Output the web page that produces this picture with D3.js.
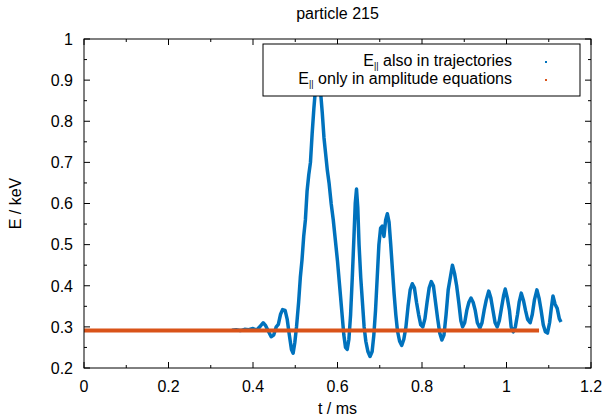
<!DOCTYPE html>
<html>
<head>
<meta charset="utf-8">
<script src="https://cdn.jsdelivr.net/npm/d3@7"></script>
<style>
  body { margin: 0; background: #fff; }
  text { font-family: "Liberation Sans", Arial, sans-serif; fill: #000; }
</style>
</head>
<body>
<div class="container"></div>
<script>
// E_|| also in trajectories (blue)
const blueT = [0.350,0.360,0.370,0.380,0.390,0.400,0.408,0.416,0.424,0.430,0.437,0.443,0.449,0.455,0.460,0.465,0.470,0.476,0.481,0.486,0.491,0.495,0.499,0.503,0.508,0.512,0.516,0.520,0.524,0.528,0.532,0.536,0.540,0.544,0.548,0.552,0.556,0.560,0.564,0.568,0.572,0.576,0.580,0.585,0.590,0.595,0.600,0.605,0.610,0.615,0.619,0.623,0.627,0.631,0.635,0.639,0.642,0.645,0.648,0.651,0.655,0.659,0.663,0.667,0.672,0.677,0.682,0.686,0.690,0.694,0.698,0.702,0.706,0.710,0.714,0.718,0.722,0.726,0.730,0.734,0.738,0.742,0.747,0.752,0.757,0.762,0.767,0.772,0.777,0.782,0.787,0.792,0.797,0.802,0.807,0.812,0.817,0.822,0.827,0.832,0.837,0.842,0.847,0.852,0.857,0.862,0.867,0.872,0.877,0.882,0.887,0.892,0.896,0.901,0.906,0.911,0.916,0.921,0.926,0.931,0.937,0.942,0.947,0.952,0.958,0.963,0.968,0.973,0.978,0.983,0.988,0.993,0.997,1.002,1.007,1.011,1.016,1.021,1.026,1.030,1.035,1.040,1.045,1.050,1.056,1.061,1.066,1.072,1.077,1.082,1.087,1.092,1.097,1.102,1.106,1.110,1.115,1.120,1.125,1.129];
const blueE = [0.292,0.293,0.291,0.294,0.293,0.296,0.292,0.300,0.310,0.303,0.288,0.276,0.280,0.300,0.306,0.330,0.342,0.340,0.318,0.280,0.245,0.236,0.262,0.300,0.360,0.420,0.463,0.520,0.560,0.630,0.670,0.700,0.770,0.830,0.880,0.910,0.900,0.870,0.820,0.760,0.720,0.680,0.650,0.600,0.560,0.510,0.460,0.400,0.340,0.280,0.250,0.245,0.270,0.330,0.420,0.520,0.600,0.635,0.590,0.500,0.420,0.360,0.300,0.265,0.240,0.228,0.240,0.280,0.340,0.420,0.500,0.540,0.545,0.520,0.560,0.575,0.555,0.500,0.440,0.380,0.330,0.290,0.265,0.255,0.270,0.300,0.350,0.390,0.405,0.395,0.360,0.330,0.305,0.300,0.320,0.360,0.395,0.410,0.400,0.360,0.320,0.285,0.268,0.280,0.330,0.390,0.420,0.450,0.430,0.400,0.360,0.315,0.300,0.310,0.340,0.360,0.370,0.360,0.340,0.310,0.297,0.310,0.340,0.365,0.387,0.370,0.340,0.310,0.300,0.315,0.345,0.375,0.392,0.370,0.340,0.300,0.288,0.300,0.330,0.360,0.382,0.365,0.340,0.318,0.310,0.330,0.365,0.390,0.370,0.340,0.305,0.288,0.285,0.310,0.345,0.375,0.355,0.345,0.320,0.312];

// E_|| only in amplitude equations (orange)
const orangeT = [0, 1.077];
const orangeE = [0.291, 0.291];

const xTicks = [0, 0.2, 0.4, 0.6, 0.8, 1, 1.2];
const yTicks = [0.2, 0.3, 0.4, 0.5, 0.6, 0.7, 0.8, 0.9, 1];

const width = 606, height = 418;
const plotLeft = 84, plotRight = 591, plotTop = 39, plotBottom = 368;

const svg = d3.select('.container').append('svg').attr('width', width).attr('height', height);

const x = d3.scaleLinear().domain([0, 1.2]).range([plotLeft, plotRight]);
const y = d3.scaleLinear().domain([0.2, 1]).range([plotBottom, plotTop]);

const line = d3.line().x(d => x(d[0])).y(d => y(d[1]));

svg.append('path')
    .datum(d3.zip(blueT, blueE))
    .attr('d', line).attr('fill', 'none').attr('stroke', '#0072bd')
    .attr('stroke-width', 3.5).attr('stroke-linejoin', 'round');

svg.append('path')
    .datum(d3.zip(orangeT, orangeE))
    .attr('d', line).attr('fill', 'none').attr('stroke', '#d95319')
    .attr('stroke-width', 4);

// ticks on all four sides, pointing inward
const tickG = svg.append('g').attr('stroke', '#000').attr('stroke-width', 1);
const xMinor = d3.range(0, 13).map(i => i / 10);
const yMinor = d3.range(0, 17).map(i => 0.2 + i * 0.05);
xMinor.forEach((v, i) => {
    const len = i % 2 === 0 ? 6 : 3;
    tickG.append('line').attr('x1', x(v)).attr('x2', x(v)).attr('y1', plotBottom).attr('y2', plotBottom - len);
    tickG.append('line').attr('x1', x(v)).attr('x2', x(v)).attr('y1', plotTop).attr('y2', plotTop + len);
});
yMinor.forEach((v, i) => {
    const len = i % 2 === 0 ? 6 : 3;
    tickG.append('line').attr('y1', y(v)).attr('y2', y(v)).attr('x1', plotLeft).attr('x2', plotLeft + len);
    tickG.append('line').attr('y1', y(v)).attr('y2', y(v)).attr('x1', plotRight).attr('x2', plotRight - len);
});

svg.append('rect')
    .attr('x', plotLeft).attr('y', plotTop).attr('width', plotRight - plotLeft).attr('height', plotBottom - plotTop)
    .attr('fill', 'none').attr('stroke', '#000').attr('stroke-width', 1);

svg.append('g').selectAll('text').data(xTicks).enter().append('text')
    .attr('x', d => x(d)).attr('y', 392).attr('text-anchor', 'middle')
    .attr('font-size', 16).text(d => d);

svg.append('g').selectAll('text').data(yTicks).enter().append('text')
    .attr('x', 73).attr('y', d => y(d)).attr('dy', '0.36em').attr('text-anchor', 'end')
    .attr('font-size', 16).text(d => d);

svg.append('text').attr('x', (plotLeft + plotRight) / 2).attr('y', 19)
    .attr('text-anchor', 'middle').attr('font-size', 16).text('particle 215');

svg.append('text').attr('x', (plotLeft + plotRight) / 2).attr('y', 414)
    .attr('text-anchor', 'middle').attr('font-size', 16).text('t / ms');

svg.append('text').attr('transform', `translate(21,${(plotTop + plotBottom) / 2}) rotate(-90)`)
    .attr('text-anchor', 'middle').attr('font-size', 16).text('E / keV');

// legend
const legend = svg.append('g');
legend.append('rect').attr('x', 263).attr('y', 44).attr('width', 317).attr('height', 52)
    .attr('fill', '#fff').attr('stroke', '#000').attr('stroke-width', 1);

const entries = [
    {label: ' also in trajectories', color: '#0072bd', base: 66},
    {label: ' only in amplitude equations', color: '#d95319', base: 84}
];
entries.forEach(e => {
    const t = legend.append('text').attr('x', 512).attr('y', e.base)
        .attr('text-anchor', 'end').attr('font-size', 16);
    t.append('tspan').text('E');
    t.append('tspan').attr('dy', 3).attr('font-size', 9).text('||');
    t.append('tspan').attr('dy', -3).text(e.label);
    legend.append('rect').attr('x', 545).attr('y', e.base - 5).attr('width', 2).attr('height', 2)
        .attr('fill', e.color);
});
</script>
</body>
</html>
